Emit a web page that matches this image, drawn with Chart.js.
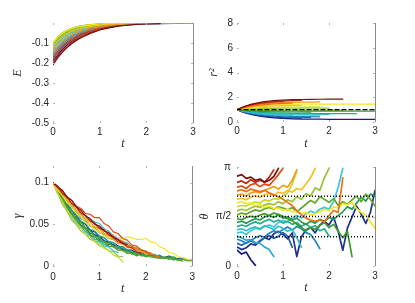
<!DOCTYPE html>
<html>
<head>
<meta charset="utf-8">
<script src="https://cdn.jsdelivr.net/npm/chart.js@4.4.1/dist/chart.umd.min.js"></script>
<style>
  body { margin: 0; background: #fff; }
  #wrap { position: relative; width: 415px; height: 303px; overflow: hidden; }
  #wrap canvas { position: absolute; }
</style>
</head>
<body>
<div id="wrap">
  <canvas id="chartE" style="left:0;top:0" width="200" height="150"></canvas>
  <canvas id="chartR" style="left:195px;top:0" width="220" height="150"></canvas>
  <canvas id="chartG" style="left:0;top:150px" width="200" height="153"></canvas>
  <canvas id="chartT" style="left:195px;top:150px" width="220" height="153"></canvas>
</div>
<script>
// time grids
const T_COARSE = [0, 0.1, 0.2, 0.3, 0.4, 0.5, 0.6, 0.8, 1.0, 1.2, 1.4, 1.6, 1.8, 2.0, 2.3, 2.6, 3.0];
const T_FINE = [0, 0.1, 0.2, 0.3, 0.4, 0.5, 0.6, 0.7, 0.8, 0.9, 1.0, 1.1, 1.2, 1.3, 1.4, 1.5, 1.6, 1.7, 1.8, 1.9,
                2.0, 2.1, 2.2, 2.3, 2.4, 2.5, 2.6, 2.7, 2.8, 2.9, 3.0];

// tick labels
const T_TICKS = [0, 1, 2, 3];
const E_TICKS = [-0.5, -0.4, -0.3, -0.2, -0.1];
const R_TICKS = [0, 2, 4, 6, 8];
const G_TICKS = [0, 0.05, 0.1];
const TH_TICKS = [0, Math.PI / 2, Math.PI];
const TH_LABELS = ['0', 'π/2', 'π'];

// E(t), one row per trajectory, on T_COARSE
const E_VALUES = [
  [-0.19,-0.16,-0.133,-0.11,-0.092,-0.077,-0.064,-0.045,-0.03,-0.02,-0.013,-0.009,-0.006,-0.004,-0.003,-0.002,-0.001],
  [-0.18,-0.15,-0.124,-0.102,-0.085,-0.07,-0.058,-0.04,-0.027,-0.018,-0.012],
  [-0.17,-0.14,-0.115,-0.094,-0.077,-0.063,-0.052,-0.036,-0.024,-0.016,-0.011,-0.007],
  [-0.16,-0.13,-0.105,-0.085,-0.069,-0.056,-0.046,-0.031,-0.021,-0.014,-0.009,-0.006,-0.004],
  [-0.15,-0.12,-0.096,-0.077,-0.062,-0.05,-0.041,-0.027,-0.018,-0.012],
  [-0.14,-0.11,-0.087,-0.069,-0.055,-0.044,-0.035,-0.023,-0.015,-0.01,-0.007,-0.005,-0.003],
  [-0.13,-0.1,-0.078,-0.061,-0.048,-0.038,-0.03,-0.02,-0.013,-0.009,-0.006,-0.004,-0.003,-0.002],
  [-0.12,-0.092,-0.07,-0.054,-0.042,-0.033,-0.026,-0.017,-0.011,-0.007,-0.005,-0.003,-0.002,-0.002,-0.001,-0.001],
  [-0.11,-0.083,-0.062,-0.047,-0.036,-0.028,-0.022,-0.014,-0.009,-0.006,-0.004,-0.003],
  [-0.1,-0.07,-0.05,-0.036,-0.026,-0.019,-0.014,-0.008,-0.005,-0.003,-0.002,-0.001,-0.001,-0.001,0,0,0],
  [-0.105,-0.076,-0.056,-0.041,-0.031,-0.023,-0.017,-0.01,-0.006,-0.004,-0.002,-0.002,-0.001,-0.001,0],
  [-0.11,-0.083,-0.062,-0.047,-0.036,-0.028,-0.022,-0.014,-0.009,-0.006,-0.004,-0.003,-0.002,-0.001],
  [-0.1,-0.072,-0.052,-0.038,-0.028,-0.021,-0.016,-0.009,-0.006,-0.004,-0.002,-0.001,-0.001],
  [-0.098,-0.07,-0.051,-0.037,-0.027,-0.02,-0.015,-0.009,-0.005,-0.003,-0.002,-0.001,-0.001,-0.001,0,0,0],
  [-0.12,-0.092,-0.07,-0.054,-0.042,-0.033,-0.026,-0.017,-0.011,-0.007,-0.005],
  [-0.14,-0.112,-0.09,-0.072,-0.058,-0.047,-0.038,-0.025,-0.016,-0.011,-0.007,-0.005,-0.003],
  [-0.16,-0.132,-0.108,-0.089,-0.074,-0.061,-0.05,-0.034,-0.023,-0.015],
  [-0.18,-0.15,-0.126,-0.105,-0.088,-0.074,-0.062,-0.043,-0.029],
  [-0.2,-0.167,-0.141,-0.118,-0.099,-0.083,-0.07,-0.049,-0.033,-0.022,-0.015],
  [-0.21,-0.174,-0.147,-0.123,-0.104,-0.088,-0.074,-0.052,-0.035,-0.024,-0.016,-0.011,-0.007,-0.005,-0.003]
];

// r^2(t), on T_COARSE
const R2_VALUES = [
  [1,0.84,0.71,0.61,0.53,0.47,0.42,0.34,0.29,0.26,0.24,0.24,0.23,0.22,0.22,0.22,0.22],
  [1,0.86,0.74,0.65,0.58,0.52,0.48,0.4,0.36,0.34,0.32],
  [1,0.87,0.76,0.68,0.61,0.56,0.51,0.45,0.41,0.38,0.37,0.36],
  [1,0.88,0.79,0.71,0.65,0.61,0.57,0.51,0.47,0.45,0.44,0.43,0.42],
  [1,0.9,0.82,0.75,0.7,0.66,0.63,0.58,0.55,0.53],
  [1,0.91,0.83,0.78,0.73,0.69,0.66,0.62,0.59,0.57,0.56,0.56,0.55],
  [1,0.92,0.86,0.81,0.77,0.74,0.72,0.68,0.65,0.64,0.63,0.63,0.62,0.62],
  [1,0.94,0.88,0.84,0.81,0.78,0.76,0.73,0.71,0.7,0.69,0.69,0.68,0.68,0.68,0.68],
  [1,0.96,0.93,0.9,0.88,0.86,0.85,0.83,0.82,0.81,0.81,0.8],
  [1,0.98,0.96,0.94,0.93,0.92,0.91,0.9,0.89,0.89,0.88,0.88,0.88,0.88,0.88,0.88,0.88],
  [1,0.99,0.98,0.98,0.97,0.97,0.96,0.96,0.95,0.95,0.95,0.95,0.95,0.95,0.95],
  [1,1.02,1.04,1.06,1.07,1.08,1.09,1.1,1.11,1.11,1.12,1.12,1.12,1.12],
  [1,1.04,1.08,1.11,1.13,1.15,1.17,1.19,1.2,1.21,1.21,1.22,1.22],
  [1,1.09,1.17,1.23,1.27,1.31,1.34,1.38,1.41,1.43,1.44,1.44,1.45,1.45,1.45,1.45,1.45],
  [1,1.07,1.13,1.18,1.21,1.24,1.26,1.3,1.32,1.33,1.34],
  [1,1.12,1.23,1.31,1.37,1.42,1.47,1.53,1.56,1.59,1.6,1.61,1.62],
  [1,1.11,1.2,1.28,1.33,1.37,1.41,1.47,1.5,1.52],
  [1,1.14,1.26,1.35,1.42,1.48,1.53,1.6,1.64],
  [1,1.15,1.28,1.38,1.46,1.52,1.57,1.65,1.69,1.72,1.74],
  [1,1.17,1.31,1.43,1.51,1.58,1.64,1.72,1.77,1.81,1.82,1.83,1.84,1.85,1.85]
];
const R2_REF = [1, 1];
const R2_REF_T = [0, 3];

// gamma(t), on T_FINE
const G_VALUES = [
  [.1,.092,.083,.076,.066,.061,.053,.05,.043,.041,.035,.034,.029,.028,.024,.023,.019,.019,.016,.017,.013,.013,.012,.011,.01,.012,.009,.009,.01,.007,.008],
  [.1,.09,.083,.072,.067,.057,.053,.046,.043,.037,.036,.03,.029,.025,.024,.02,.019],
  [.1,.091,.079,.073,.063,.058,.049,.046,.039,.038,.032,.031,.026,.026,.021,.021,.017,.017,.014,.014,.012],
  [.1,.094,.084,.079,.07,.066,.057,.054,.048,.046,.04,.038,.033,.032,.027,.027,.022,.022,.018,.019,.015,.015,.012,.013,.01],
  [.1,.089,.08,.069,.062,.053,.048,.041,.038,.032,.031,.026,.024],
  [.1,.091,.086,.077,.073,.065,.062,.057,.056,.053,.051,.045,.042,.036,.034,.029,.028,.023,.022,.018,.018,.014,.014,.01,.01,.008],
  [.1,.087,.078,.066,.059,.05,.046,.039,.036,.03,.029,.024,.023,.018,.016],
  [.1,.092,.082,.076,.067,.062,.054,.051,.044,.042,.036,.034,.029,.028,.023,.023,.018,.018,.015,.015,.012,.013,.01,.011,.009,.009,.007],
  [.1,.089,.082,.072,.066,.057,.053,.045,.042,.036,.034,.029,.028,.023,.023,.019,.019,.015,.016,.013,.012,.014,.011,.012,.009,.01,.011,.008,.009,.007,.006],
  [.1,.09,.078,.071,.061,.056,.048,.044,.037,.035,.03,.029,.024,.023,.019,.019,.015,.016,.012,.015,.011,.012,.013,.009,.01,.011,.008,.007,.006],
  [.1,.089,.081,.07,.065,.056,.052,.045,.042,.035,.034,.028,.027,.023,.022,.018,.018,.014,.015,.012,.012,.011,.01,.009,.011,.008,.009,.007,.008,.006,.007],
  [.1,.088,.074,.066,.055,.05,.042,.038,.032,.03,.024,.023,.018,.017,.012,.011],
  [.1,.087,.078,.066,.06,.051,.046,.038,.035,.029,.027,.021,.019,.013,.011,.005],
  [.1,.091,.085,.076,.071,.063,.059,.052,.049,.043,.041,.036,.036,.033,.034,.033,.035,.034,.032,.032,.033,.029,.028,.023,.021,.016,.015,.011,.01,.008,.008],
  [.1,.094,.085,.08,.071,.067,.059,.056,.049,.047,.041,.039,.033,.032,.027,.026,.022,.022,.018,.018,.014,.015,.012],
  [.1,.093,.088,.079,.075,.067,.063,.056,.053,.047,.045,.039,.037,.032,.031,.026,.025,.021,.021,.017,.016],
  [.1,.095,.087,.083,.075,.071,.063,.06,.054,.052,.046,.044,.038,.037,.031,.03,.025,.024,.02,.02,.016,.016,.012,.011],
  [.1,.094,.09,.082,.079,.072,.069,.063,.062,.058,.058,.051,.048,.041,.039,.033,.031,.025,.024,.019,.018,.013,.012],
  [.1,.096,.087,.083,.075,.071,.064,.061,.054,.051,.045,.043,.037,.035,.029,.028,.023,.022,.017,.015],
  [.1,.095,.091,.083,.079,.071,.067,.06,.057,.05,.048,.042,.04,.034,.032,.027,.026]
];

// theta(t), on T_FINE
const TH_VALUES = [
  [0.5,0.38,0.44,0.2,0.02],
  [0.6,0.52,0.58,0.7,0.66,0.8,0.9,0.84,1.02,1.1,1.0,0.86,1.05,0.3,0.92,1.15,1.22,1.05,1.3,1.42,1.3,1.55,1.1,0.5,1.2,1.55,1.9,1.65,1.35,1.7,2.4],
  [0.72,0.66,0.74,0.8,0.72,0.78,0.9,0.96,0.88,0.94,1.06,0.95,0.6],
  [0.85,0.8,0.72,0.8,0.9,0.96,0.92,1.04,1.12,1.06,1.16,1.24,1.14,1.26,1.18,1.06,1.0,0.8,0.55],
  [0.95,0.9,0.82,0.84,0.74,0.72,0.6,0.52,0.3],
  [1.05,1.08,1.0,1.12,1.2,1.16,1.26,1.3,1.24,1.38,1.44,1.4,1.52,1.6,1.52,1.66,1.74,1.68,1.8,1.86,1.8,2.05,2.5,3.1],
  [1.15,1.18,1.12,1.2,1.24,1.18,1.28,1.22,1.16,1.26,1.2,1.1,1.16,0.9,0.6],
  [1.25,1.3,1.26,1.34,1.4,1.34,1.42,1.48,1.4,1.46,1.36,1.42,1.32,1.38,1.26,1.34,1.22,1.28,1.12,1.18,0.95],
  [1.38,1.42,1.36,1.44,1.5,1.46,1.56,1.6,1.54,1.62,1.52,1.56,1.46,1.52,1.4,1.32,1.42,1.36,1.48,1.42,1.54,1.48,1.6,1.72,1.88,1.8,2.0,2.18,2.06,2.28,2.22],
  [1.5,1.47,1.54,1.58,1.55,1.62,1.66,1.6,1.68,1.64,1.58,1.5,1.44,1.32,1.22,1.12,1.22,1.16,1.28,1.38,1.22,1.32,1.1,0.9,1.1,0.3],
  [1.62,1.68,1.64,1.72,1.78,1.74,1.82,1.86,1.8,1.88,1.84,1.78,1.86,1.72,1.84,1.96,2.08,2.0,2.2,2.12,2.02,2.14,1.92,2.04,1.96,2.1,2.22,2.04,2.28,2.12,1.9],
  [1.75,1.8,1.76,1.84,1.9,1.86,1.94,1.98,1.94,2.04,1.98,2.1,2.04,2.2,2.12,2.3,2.22,2.48,2.4,2.8,3.1],
  [1.88,1.92,1.9,1.98,2.04,2.0,2.1,2.06,2.14,2.12,2.22,2.32,2.6,3.0],
  [2.0,2.04,1.98,2.0,1.92,1.94,1.86,1.9,1.82,1.84,1.76,1.8,1.72,1.74,1.66,1.7,1.62,1.66,1.72,1.8,1.76,1.88,1.84,1.98,1.94,2.02,1.82,1.7,1.62,1.4,1.2],
  [2.12,2.15,2.1,2.18,2.22,2.18,2.26,2.3,2.24,2.34,2.3,2.4,2.34,2.46,2.42,2.6,2.8,3.1],
  [2.25,2.28,2.22,2.32,2.36,2.32,2.4,2.46,2.52,2.44,2.56,2.5,2.72,3.05],
  [2.38,2.42,2.36,2.44,2.4,2.36,2.4,2.32,2.26,2.2,2.12,2.02,1.92,1.76,1.62,1.52,1.46,1.42,1.46,1.4,1.6,1.76,1.7,2.8],
  [2.5,2.54,2.46,2.58,2.62,2.52,2.6,2.56,2.72,2.9,3.1],
  [2.65,2.7,2.62,2.74,2.66,2.72,2.66,2.82,3.05],
  [2.85,2.9,2.78,2.82,2.72,2.76,2.66,2.72,2.84,3.1]
];
const TH_REF = [0.93, 1.571, 2.21];
const TH_REF_T = [0, 3];

const COLORS = ['#1a1a80', '#20308f', '#1f5fae', '#1f86c0', '#2aa6d4', '#3cc4e4', '#2fc0c0', '#22b08a',
                '#1f9a50', '#3a9a2a', '#62a82a', '#98c432', '#c8d828', '#f2e81e', '#f6c020', '#f59a18',
                '#ee7010', '#e04a10', '#b8280e', '#7a1010'];

Chart.defaults.font.family = '"Liberation Sans", Arial, sans-serif';
Chart.defaults.font.size = 10;
Chart.defaults.color = '#262626';

// gray right border and small inward ticks, like the matlab box
const boxFrame = {
  id: 'boxFrame',
  afterDatasetsDraw(chart) {
    const ctx = chart.ctx, a = chart.chartArea, xs = chart.scales.x, ys = chart.scales.y;
    ctx.save();
    ctx.lineWidth = 1;
    ctx.strokeStyle = '#b4b4b4';
    ctx.beginPath();
    xs.ticks.forEach(t => {
      const p = Math.round(xs.getPixelForValue(t.value)) + 0.5;
      ctx.moveTo(p, a.top); ctx.lineTo(p, a.top + 2);
      ctx.moveTo(p, a.bottom); ctx.lineTo(p, a.bottom - 2);
    });
    ys.ticks.forEach(t => {
      const p = Math.round(ys.getPixelForValue(t.value)) + 0.5;
      ctx.moveTo(a.left, p); ctx.lineTo(a.left + 2, p);
      ctx.moveTo(a.right, p); ctx.lineTo(a.right - 2, p);
    });
    ctx.stroke();
    ctx.strokeStyle = '#8a8a8a';
    ctx.beginPath();
    ctx.moveTo(Math.round(a.right) + 0.5, a.top);
    ctx.lineTo(Math.round(a.right) + 0.5, a.bottom);
    ctx.stroke();
    ctx.restore();
  }
};

function trajectories(times, rows, width) {
  return rows.map((ys, k) => ({
    data: ys.map((v, i) => ({x: times[i], y: v})),
    borderColor: COLORS[k],
    borderWidth: width,
    order: 40 - k
  }));
}

function makeChart(id, datasets, p) {
  const titleFont = {family: '"Liberation Serif", "Times New Roman", serif', style: 'italic', size: 12, lineHeight: 1};
  return new Chart(document.getElementById(id), {
    type: 'line',
    data: {datasets: datasets},
    options: {
      responsive: false,
      animation: false,
      events: [],
      layout: {padding: {left: 0, top: p.top, right: p.right, bottom: 0}},
      elements: {point: {radius: 0}, line: {tension: 0, borderCapStyle: 'round', borderJoinStyle: 'round'}},
      plugins: {legend: {display: false}, tooltip: {enabled: false}},
      scales: {
        x: {
          type: 'linear', min: 0, max: 3,
          border: {display: false},
          grid: {display: false, drawTicks: false},
          afterBuildTicks: s => { s.ticks = T_TICKS.map(v => ({value: v})); },
          afterFit: s => { s.height = p.xh; },
          ticks: {padding: p.xpad, callback: v => String(v)},
          title: {display: true, text: 't', font: titleFont, color: '#262626', padding: {top: 0, bottom: p.tpad}}
        },
        y: {
          type: 'linear', min: p.ymin, max: p.ymax,
          border: {display: false},
          grid: {display: false, drawTicks: false},
          afterBuildTicks: s => { s.ticks = p.yticks.map(v => ({value: v})); },
          afterFit: s => { s.width = p.yw; },
          ticks: {padding: p.ypad, callback: (v, i) => p.ylabels[i]},
          title: {display: true, text: p.ytitle, font: titleFont, color: '#262626', padding: {top: p.ytpad, bottom: 0}}
        }
      }
    },
    plugins: [boxFrame]
  });
}

// E panel
makeChart('chartE', trajectories(T_COARSE, E_VALUES, 1.2), {
  top: 23, right: 7, xh: 27, yw: 53, xpad: 3, ypad: 4, tpad: 0, ytpad: 12,
  ymin: -0.5, ymax: 0, yticks: E_TICKS, ylabels: E_TICKS.map(v => v.toFixed(1)), ytitle: 'E'
});

// r^2 panel
const rSets = trajectories(T_COARSE, R2_VALUES, 1.2);
rSets.unshift({
  data: R2_REF.map((v, i) => ({x: R2_REF_T[i], y: v})),
  borderColor: '#000', borderWidth: 1.3, borderDash: [4, 3], order: 0
});
makeChart('chartR', rSets, {
  top: 23, right: 40, xh: 28, yw: 42, xpad: 3, ypad: 4, tpad: 0, ytpad: 13,
  ymin: 0, ymax: 8, yticks: R_TICKS, ylabels: R_TICKS.map(String), ytitle: 'r²'
});

// gamma panel
makeChart('chartG', trajectories(T_FINE, G_VALUES, 1.2), {
  top: 16, right: 7, xh: 37, yw: 53, xpad: 5, ypad: 4, tpad: 8, ytpad: 12,
  ymin: 0, ymax: 0.12, yticks: G_TICKS, ylabels: ['0', '0.05', '0.1'], ytitle: 'γ'
});

// theta panel
const thSets = trajectories(T_FINE, TH_VALUES, 1.7);
TH_REF.forEach(v => {
  thSets.unshift({
    data: TH_REF_T.map(t => ({x: t, y: v})),
    borderColor: '#000', borderWidth: 1.5, borderDash: [1, 2], borderCapStyle: 'butt', order: 0
  });
});
makeChart('chartT', thSets, {
  top: 17, right: 40, xh: 37, yw: 42, xpad: 4, ypad: 6, tpad: 9, ytpad: 4,
  ymin: 0, ymax: Math.PI, yticks: TH_TICKS, ylabels: TH_LABELS, ytitle: 'θ'
});
</script>
</body>
</html>
